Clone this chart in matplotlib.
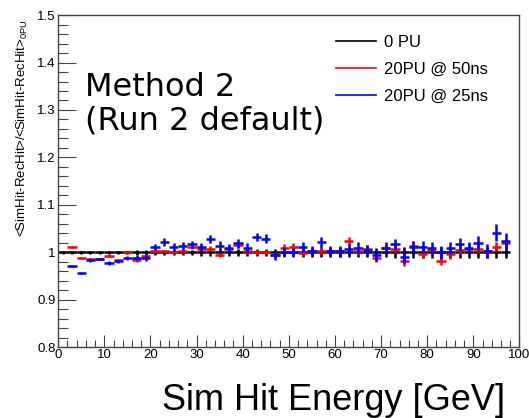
import numpy as np
import matplotlib
matplotlib.use("Agg")
import matplotlib.pyplot as plt
from matplotlib.ticker import MultipleLocator, FormatStrFormatter
from matplotlib.lines import Line2D

plt.rcParams['font.family'] = ['Liberation Sans', 'DejaVu Sans']
plt.rcParams['mathtext.default'] = 'regular'

# bin centres (2 GeV bins)
e_0pu = [1, 3, 5, 7, 9, 11, 13, 15, 17, 19, 21, 23, 25, 27, 29, 31, 33, 35, 37, 39,
         41, 43, 45, 47, 49, 51, 53, 55, 57, 59, 61, 63, 65, 67, 69, 71, 73, 75, 77, 79,
         81, 83, 85, 87, 89, 91, 93, 95, 97]
r_0pu = [1.0] * 49
err_0pu = [0.004, 0.004, 0.004, 0.004, 0.004, 0.004, 0.004, 0.004, 0.005, 0.005,
           0.005, 0.006, 0.006, 0.006, 0.006, 0.007, 0.007, 0.007, 0.007, 0.007,
           0.008, 0.008, 0.008, 0.008, 0.008, 0.008, 0.009, 0.009, 0.009, 0.009,
           0.009, 0.010, 0.010, 0.010, 0.010, 0.010, 0.011, 0.011, 0.011, 0.011,
           0.011, 0.012, 0.012, 0.012, 0.012, 0.012, 0.012, 0.012, 0.012]

e_pu = [3, 5, 7, 9, 11, 13, 15, 17, 19, 21, 23, 25, 27, 29, 31, 33, 35, 37, 39,
        41, 43, 45, 47, 49, 51, 53, 55, 57, 59, 61, 63, 65, 67, 69, 71, 73, 75, 77, 79,
        81, 83, 85, 87, 89, 91, 93, 95, 97]
r_50ns = [1.011, 0.988, 0.987, 0.986, 0.993, 0.983, 1.000, 0.984, 0.993, 1.002,
          1.002, 1.000, 1.003, 1.012, 1.007, 1.008, 0.995, 1.008, 1.015, 1.002,
          1.000, 1.000, 0.995, 1.010, 1.012, 0.999, 1.003, 1.003, 1.003, 1.003,
          1.024, 1.003, 1.007, 0.988, 1.009, 1.007, 0.981, 1.014, 0.997, 1.005,
          0.982, 0.996, 1.006, 1.008, 1.008, 1.002, 1.012, 1.019]
err_50ns = [0.002, 0.002, 0.002, 0.003, 0.003, 0.003, 0.003, 0.004, 0.004, 0.004,
            0.004, 0.004, 0.005, 0.005, 0.005, 0.005, 0.005, 0.006, 0.006, 0.006,
            0.006, 0.006, 0.006, 0.007, 0.007, 0.007, 0.007, 0.007, 0.007, 0.008,
            0.008, 0.008, 0.008, 0.008, 0.008, 0.009, 0.009, 0.009, 0.009, 0.009,
            0.009, 0.009, 0.010, 0.010, 0.010, 0.010, 0.010, 0.010]
r_25ns = [0.971, 0.957, 0.983, 0.986, 0.977, 0.981, 0.988, 0.989, 0.988, 1.011,
          1.022, 1.012, 1.013, 1.017, 1.011, 1.028, 1.014, 1.009, 1.019, 1.010,
          1.032, 1.029, 0.994, 1.001, 1.000, 1.011, 1.003, 1.021, 1.003, 1.002,
          1.007, 1.010, 1.005, 0.994, 1.010, 1.017, 0.990, 1.011, 1.011, 1.009,
          1.000, 1.009, 1.017, 1.009, 1.020, 1.003, 1.041, 1.024]
err_25ns = [0.002, 0.002, 0.003, 0.003, 0.004, 0.004, 0.005, 0.005, 0.006, 0.006,
            0.008, 0.008, 0.008, 0.008, 0.008, 0.009, 0.009, 0.009, 0.009, 0.009,
            0.009, 0.009, 0.010, 0.010, 0.010, 0.010, 0.010, 0.011, 0.011, 0.011,
            0.011, 0.011, 0.011, 0.012, 0.012, 0.012, 0.012, 0.012, 0.012, 0.013,
            0.013, 0.013, 0.013, 0.013, 0.014, 0.014, 0.018, 0.016]

fig = plt.figure(figsize=(5.29, 4.18), dpi=100)
ax = fig.add_axes([0.110, 0.169, 0.872, 0.795])

ax.errorbar(e_0pu, r_0pu, xerr=1, yerr=err_0pu, fmt='none', ecolor='black',
            elinewidth=1.8, zorder=2)
ax.errorbar(e_pu, r_50ns, xerr=1, yerr=err_50ns, fmt='none', ecolor='#ff0000',
            elinewidth=1.8, zorder=3)
ax.errorbar(e_pu, r_25ns, xerr=1, yerr=err_25ns, fmt='none', ecolor='#0000ff',
            elinewidth=1.8, zorder=4)

ax.set_xlim(0, 100)
ax.set_ylim(0.8, 1.5)
ax.xaxis.set_major_locator(MultipleLocator(10))
ax.xaxis.set_minor_locator(MultipleLocator(2))
ax.yaxis.set_major_locator(MultipleLocator(0.1))
ax.yaxis.set_minor_locator(MultipleLocator(0.02))
ax.yaxis.set_major_formatter(FormatStrFormatter('%g'))
ax.tick_params(which='both', direction='in', top=False, right=False,
               labelsize=9.5, color='#444444', width=0.8)
ax.tick_params(axis='y', which='major', length=13, pad=2)
ax.tick_params(axis='y', which='minor', length=7)
ax.tick_params(axis='x', which='major', length=9, pad=1)
ax.tick_params(axis='x', which='minor', length=5)
for s in ax.spines.values():
    s.set_color('#444444')
    s.set_linewidth(1.0)

# legend, no frame, like the ROOT one
handles = [Line2D([], [], color='black', lw=1.2),
           Line2D([], [], color='#ff0000', lw=1.2),
           Line2D([], [], color='#0000ff', lw=1.2)]
fig.legend(handles, ['0 PU', '20PU @ 50ns', '20PU @ 25ns'], loc='upper left',
           bbox_to_anchor=(336 / 529, 1 - 35 / 418), frameon=False, fontsize=12,
           handlelength=2.4, handletextpad=0.45, labelspacing=0.72,
           borderpad=0, borderaxespad=0)

fig.text(85 / 529, 1 - 96 / 418, 'Method 2', fontsize=23, family='DejaVu Sans',
         va='baseline', ha='left')
fig.text(85 / 529, 1 - 129 / 418, '(Run 2 default)', fontsize=23, family='DejaVu Sans',
         va='baseline', ha='left')

fig.text(22 / 529, 1 - 20 / 418, r'<SimHit-RecHit>/<SimHit-RecHit>$_{0PU}$',
         rotation=90, fontsize=9.5, ha='center', va='top')
fig.text(505 / 529, 1 - 410 / 418, 'Sim Hit Energy [GeV]', fontsize=26,
         ha='right', va='baseline')

fig.savefig('out.png', dpi=100)
